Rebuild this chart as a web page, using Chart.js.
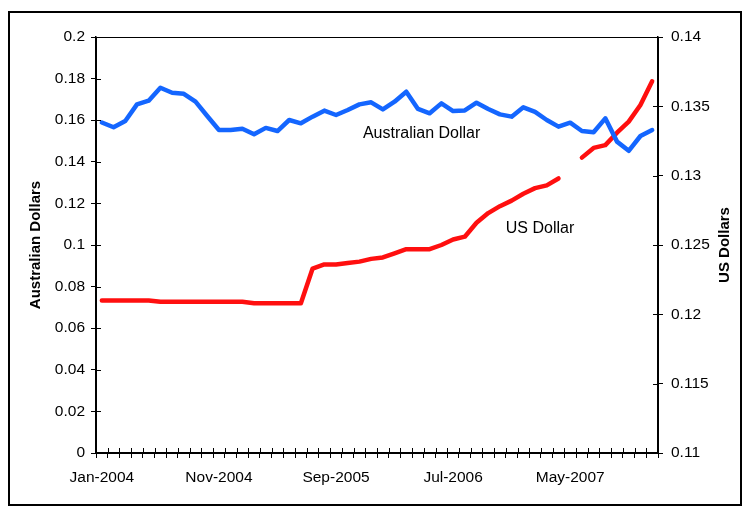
<!DOCTYPE html>
<html>
<head>
<meta charset="utf-8">
<script src="https://cdn.jsdelivr.net/npm/chart.js@4/dist/chart.umd.min.js"></script>
<style>
  html, body { margin: 0; padding: 0; background: #fff; }
  canvas { display: block; }
</style>
</head>
<body>
<canvas id="fx" width="745" height="507"></canvas>
<script>
// Monthly categories, Jan 2004 - Dec 2007
const months = [
  'Jan-2004','Feb-2004','Mar-2004','Apr-2004','May-2004','Jun-2004','Jul-2004','Aug-2004','Sep-2004','Oct-2004','Nov-2004','Dec-2004',
  'Jan-2005','Feb-2005','Mar-2005','Apr-2005','May-2005','Jun-2005','Jul-2005','Aug-2005','Sep-2005','Oct-2005','Nov-2005','Dec-2005',
  'Jan-2006','Feb-2006','Mar-2006','Apr-2006','May-2006','Jun-2006','Jul-2006','Aug-2006','Sep-2006','Oct-2006','Nov-2006','Dec-2006',
  'Jan-2007','Feb-2007','Mar-2007','Apr-2007','May-2007','Jun-2007','Jul-2007','Aug-2007','Sep-2007','Oct-2007','Nov-2007','Dec-2007'
];

// Labels printed under the category axis
const shownMonths = ['Jan-2004', 'Nov-2004', 'Sep-2005', 'Jul-2006', 'May-2007'];

// Price in Australian dollars (left axis)
const audPrice = [
  0.1589, 0.1566, 0.1596, 0.1676, 0.1694, 0.1756, 0.1732, 0.1727, 0.1689, 0.1620, 0.1553, 0.1553,
  0.1559, 0.1532, 0.1563, 0.1548, 0.1601, 0.1585, 0.1617, 0.1646, 0.1625, 0.1649, 0.1676, 0.1686,
  0.1652, 0.1689, 0.1737, 0.1654, 0.1633, 0.1681, 0.1644, 0.1647, 0.1684, 0.1654, 0.1628, 0.1617,
  0.1662, 0.1640, 0.1601, 0.1569, 0.1588, 0.1548, 0.1542, 0.1609, 0.1497, 0.1453, 0.1524, 0.1553
];

// Price in US dollars (right axis); May-2007 has no value
const usdPrice = [
  0.1210, 0.1210, 0.1210, 0.1210, 0.1210, 0.1209, 0.1209, 0.1209, 0.1209, 0.1209, 0.1209, 0.1209,
  0.1209, 0.1208, 0.1208, 0.1208, 0.1208, 0.1208, 0.1233, 0.1236, 0.1236, 0.1237, 0.1238, 0.1240,
  0.1241, 0.1244, 0.1247, 0.1247, 0.1247, 0.1250, 0.1254, 0.1256, 0.1266, 0.1273, 0.1278, 0.1282,
  0.1287, 0.1291, 0.1293, 0.1298, null,   0.1313, 0.1320, 0.1322, 0.1331, 0.1339, 0.1351, 0.1368
];

const FONT = '"Liberation Sans", Arial, sans-serif';

// Frame, plot box, crossing tick marks, axis titles and series captions
const decorations = {
  id: 'decorations',
  afterDraw(chart) {
    const ctx = chart.ctx;
    const area = chart.chartArea;
    const x = chart.scales.x, y = chart.scales.y, y1 = chart.scales.y1;
    ctx.save();

    // outer frame
    ctx.strokeStyle = '#000';
    ctx.lineWidth = 2;
    ctx.strokeRect(9, 12, 732, 493);

    // plot box
    ctx.lineWidth = 1;
    ctx.strokeRect(area.left + 0.5, area.top + 0.5, area.right - area.left, area.bottom - area.top);

    // inner halves of the crossing tick marks
    ctx.beginPath();
    for (let k = 0; k <= months.length; k++) {
      const px = Math.round(x.getPixelForValue(k - 0.5)) + 0.5;
      ctx.moveTo(px, area.bottom);
      ctx.lineTo(px, area.bottom - 5);
    }
    y.ticks.forEach(t => {
      const py = Math.round(y.getPixelForValue(t.value)) + 0.5;
      ctx.moveTo(area.left, py);
      ctx.lineTo(area.left + 5, py);
    });
    y1.ticks.forEach(t => {
      const py = Math.round(y1.getPixelForValue(t.value)) + 0.5;
      ctx.moveTo(area.right, py);
      ctx.lineTo(area.right - 5, py);
    });
    ctx.stroke();

    // axis titles, both reading upward
    ctx.fillStyle = '#000';
    ctx.font = 'bold 15px ' + FONT;
    ctx.textAlign = 'center';
    ctx.textBaseline = 'middle';
    const midY = (area.top + area.bottom) / 2;
    ctx.save();
    ctx.translate(y.left + 36, midY);
    ctx.rotate(-Math.PI / 2);
    ctx.fillText('Australian Dollars', 0, 0);
    ctx.restore();
    ctx.save();
    ctx.translate(y1.right - 20, midY);
    ctx.rotate(-Math.PI / 2);
    ctx.fillText('US Dollars', 0, 0);
    ctx.restore();

    // series captions
    ctx.font = '16px ' + FONT;
    ctx.textAlign = 'left';
    ctx.fillText('Australian Dollar', x.getPixelForValue(22.3), y.getPixelForValue(0.1534));
    ctx.fillText('US Dollar', x.getPixelForValue(34.5), y1.getPixelForValue(0.1262));

    ctx.restore();
  }
};

const tickFont = { family: FONT, size: 15.5 };

new Chart(document.getElementById('fx'), {
  type: 'line',
  data: {
    labels: months,
    datasets: [
      {
        label: 'Australian Dollar',
        data: audPrice,
        yAxisID: 'y',
        borderColor: '#1466ff',
        borderWidth: 4.5,
        pointRadius: 0,
        tension: 0,
        borderCapStyle: 'round',
        borderJoinStyle: 'round'
      },
      {
        label: 'US Dollar',
        data: usdPrice,
        yAxisID: 'y1',
        borderColor: '#ff0f0f',
        borderWidth: 4.5,
        pointRadius: 0,
        tension: 0,
        spanGaps: false,
        borderCapStyle: 'round',
        borderJoinStyle: 'round'
      }
    ]
  },
  options: {
    responsive: false,
    devicePixelRatio: 1,
    animation: false,
    layout: { padding: { top: 37, left: 0, right: 0, bottom: 0 } },
    plugins: { legend: { display: false }, tooltip: { enabled: false } },
    scales: {
      x: {
        type: 'category',
        offset: true,
        grid: { offset: true, drawOnChartArea: false, tickLength: 5, color: '#000', lineWidth: 1 },
        border: { color: '#000', width: 1.5 },
        ticks: {
          autoSkip: false,
          maxRotation: 0,
          minRotation: 0,
          padding: 10,
          color: '#000',
          font: tickFont,
          callback(value, index) {
            const m = months[index];
            return shownMonths.includes(m) ? m : '';
          }
        },
        afterFit(scale) { scale.height = 54; }
      },
      y: {
        type: 'linear',
        position: 'left',
        min: 0,
        max: 0.2,
        grid: { drawOnChartArea: false, tickLength: 5, color: '#000', lineWidth: 1 },
        border: { color: '#000', width: 1.5 },
        ticks: {
          stepSize: 0.02,
          padding: 6,
          color: '#000',
          font: tickFont,
          callback: v => String(+v.toFixed(3))
        },
        afterFit(scale) { scale.width = 96; }
      },
      y1: {
        type: 'linear',
        position: 'right',
        min: 0.11,
        max: 0.14,
        grid: { drawOnChartArea: false, tickLength: 5, color: '#000', lineWidth: 1 },
        border: { color: '#000', width: 1.5 },
        ticks: {
          stepSize: 0.005,
          padding: 8,
          color: '#000',
          font: tickFont,
          callback: v => String(+v.toFixed(4))
        },
        afterFit(scale) { scale.width = 87; }
      }
    }
  },
  plugins: [decorations]
});
</script>
</body>
</html>
